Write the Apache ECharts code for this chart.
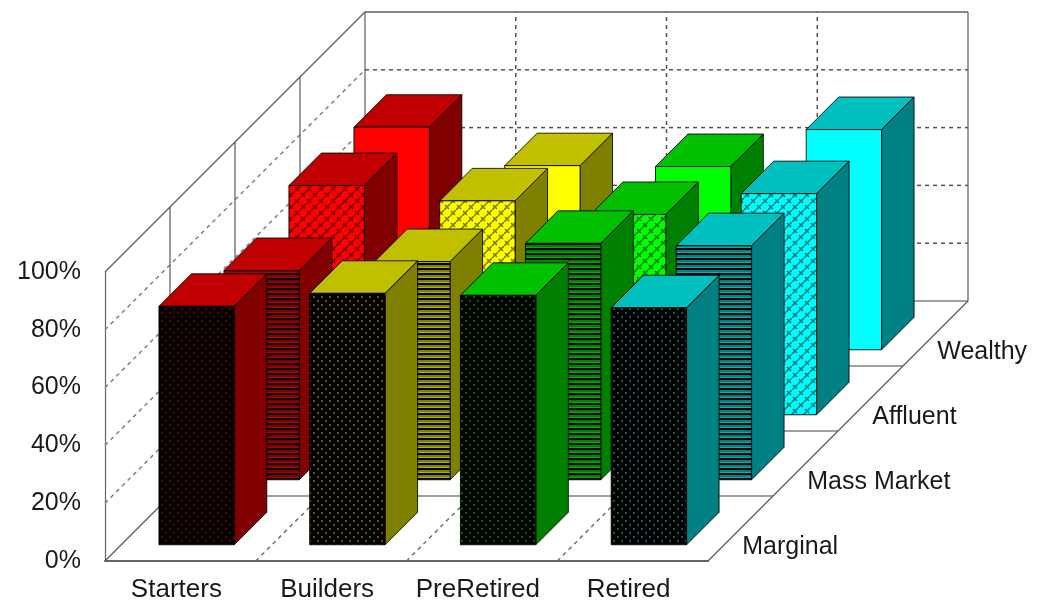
<!DOCTYPE html>
<html>
<head>
<meta charset="utf-8">
<title>Segment penetration by life stage</title>
<style>html,body{margin:0;padding:0;background:#fff}#chart{width:1040px;height:600px}</style>
<script src="https://cdn.jsdelivr.net/npm/echarts@6/dist/echarts.min.js"></script>
</head>
<body>
<div id="chart"></div>
<script>
// Life stages along the width, wealth segments along the depth (front to back)
const stages = ['Starters', 'Builders', 'PreRetired', 'Retired'];
const segments = ['Marginal', 'Mass Market', 'Affluent', 'Wealthy'];

// Percent values per segment, one per life stage
const marginal = [82.5, 87, 86.3, 82];
const massMarket = [72.4, 75.5, 81.8, 81];
const affluent = [79.3, 74, 69.3, 76.5];
const wealthy = [77, 63.7, 63.4, 76.2];
const segmentValues = [marginal, massMarket, affluent, wealthy];

const gridTicks = [20, 40, 60, 80];

// Face, top and side shades per life stage
const faceColors = ['#ff0000', '#ffff00', '#00ff00', '#00ffff'];
const topColors = ['#c00000', '#c0c000', '#00c000', '#00c0c0'];
const sideColors = ['#800000', '#808000', '#008000', '#008080'];

const DEPTH_STEP = 65;   // pixels per segment along the oblique depth axis
const WALL = '#5c5c5c';
const DASH = '#555555';
const FONT = '"Liberation Sans", Arial, sans-serif';

function tile(w, h, paint) {
  const c = document.createElement('canvas');
  c.width = w; c.height = h;
  paint(c.getContext('2d'));
  return c;
}

// Staggered dots on black for the front segment
function dotTile(side) {
  return tile(8, 8, g => {
    g.fillStyle = '#030000'; g.fillRect(0, 0, 8, 8);
    g.fillStyle = side;
    g.globalAlpha = 0.75;
    g.fillRect(1, 0, 2, 2);
    g.fillRect(5, 4, 2, 2);
    g.globalAlpha = 1;
  });
}
// Horizontal stripes
function stripeTile(face, side) {
  return tile(5, 5, g => {
    g.fillStyle = side; g.fillRect(0, 0, 5, 5);
    g.fillStyle = face; g.globalAlpha = 0.4; g.fillRect(0, 2, 5, 1);
    g.globalAlpha = 1;
    g.fillStyle = '#000'; g.fillRect(0, 3, 5, 2);
  });
}
// Woven cross-hatch
function weaveTile(face, side) {
  return tile(12, 12, g => {
    g.fillStyle = face; g.fillRect(0, 0, 12, 12);
    g.strokeStyle = side; g.lineWidth = 1.7;
    [[1, 1, 5, 5], [7, 7, 11, 11], [6, 0, 0, 6], [12, 6, 6, 12]].forEach(s => {
      g.beginPath();
      g.moveTo(s[0], s[1]);
      g.lineTo(s[2], s[3]);
      g.stroke();
    });
  });
}

function faceFill(stage, segment) {
  const face = faceColors[stage], side = sideColors[stage];
  if (segment === 3) return face;
  const image = segment === 0 ? dotTile(side)
    : segment === 1 ? stripeTile(face, side)
    : weaveTile(face, side);
  return { image: image, repeat: 'repeat' };
}

// Maps (stage position, percent, depth position) to pixels through the axes
function projector(api) {
  const band = api.size([1, 0])[0];
  const x0 = api.coord([0, 0])[0] - band / 2;
  return (u, v, d) => [x0 + u * band + d * DEPTH_STEP, api.coord([0, v])[1] - d * DEPTH_STEP];
}

function seg(a, b, stroke, width, dash) {
  return {
    type: 'line',
    shape: { x1: a[0], y1: a[1], x2: b[0], y2: b[1] },
    style: { stroke: stroke, lineWidth: width, lineDash: dash || null, fill: null },
    silent: true
  };
}

function renderFrame(params, api) {
  const p = projector(api);
  const n = stages.length, m = segments.length;
  const kids = [];
  const dash = [4, 4];
  gridTicks.forEach(t => {
    kids.push(seg(p(0, t, m), p(n, t, m), DASH, 1.5, dash));
    kids.push(seg(p(0, t, 0), p(0, t, m), '#808080', 1.5, dash));
  });
  for (let u = 1; u < n; u++) {
    kids.push(seg(p(u, 0, m), p(u, 100, m), DASH, 1.5, dash));
    kids.push(seg(p(u, 0, 0), p(u, 0, m), '#707070', 1.5, dash));
  }
  for (let d = 1; d <= m; d++) {
    kids.push(seg(p(0, 0, d), p(n, 0, d), '#808080', 1.5));
    kids.push(seg(p(0, 0, d), p(0, 100, d), WALL, 1.2));
  }
  kids.push(seg(p(0, 100, 0), p(0, 100, m), WALL, 1.2));
  kids.push(seg(p(0, 100, m), p(n, 100, m), WALL, 1.5));
  kids.push(seg(p(n, 0, m), p(n, 100, m), WALL, 1.2));
  kids.push(seg(p(0, 0, 0), p(0, 0, m), WALL, 1.2));
  kids.push(seg(p(n, 0, 0), p(n, 0, m), WALL, 1.2));
  segments.forEach((name, r) => {
    const at = p(n, 0, r + 0.25);
    kids.push({
      type: 'text',
      style: {
        x: at[0] + 18, y: at[1] + 2, text: name, fill: '#1a1a1a',
        font: '25px ' + FONT,
        textAlign: 'left', textVerticalAlign: 'middle'
      }
    });
  });
  return { type: 'group', children: kids };
}

function renderBar(params, api) {
  const stage = api.value(0), value = api.value(1), row = api.value(2);
  const p = projector(api);
  const u0 = stage + 0.25, u1 = stage + 0.75, d0 = row + 0.25, d1 = row + 0.75;
  const edge = { stroke: 'rgba(0,0,0,0.85)', lineWidth: 1 };
  const poly = (points, fill) => ({
    type: 'polygon',
    shape: { points: points },
    style: Object.assign({ fill: fill }, edge)
  });
  return {
    type: 'group',
    children: [
      poly([p(u1, 0, d0), p(u1, 0, d1), p(u1, value, d1), p(u1, value, d0)], sideColors[stage]),
      poly([p(u0, value, d0), p(u1, value, d0), p(u1, value, d1), p(u0, value, d1)], topColors[stage]),
      poly([p(u0, 0, d0), p(u1, 0, d0), p(u1, value, d0), p(u0, value, d0)], faceFill(stage, row))
    ]
  };
}

// Rear rows first so nearer bars paint over them
const barData = [];
for (let r = segments.length - 1; r >= 0; r--) {
  stages.forEach((s, i) => barData.push([i, segmentValues[r][i], r]));
}

const chart = echarts.init(document.getElementById('chart'), null, { renderer: 'canvas' });
chart.setOption({
  backgroundColor: '#ffffff',
  animation: false,
  tooltip: { show: false },
  grid: { left: 105, top: 272, width: 603, height: 289, containLabel: false, outerBoundsMode: 'none' },
  xAxis: {
    type: 'category',
    data: stages,
    axisLine: { show: true, lineStyle: { color: '#666666', width: 2 } },
    axisTick: { show: false },
    splitLine: { show: false },
    axisLabel: {
      margin: 16, color: '#1a1a1a', fontSize: 26, fontFamily: FONT, interval: 0,
      padding: [0, 8, 0, 0]
    }
  },
  yAxis: {
    type: 'value',
    min: 0, max: 100, interval: 20,
    axisLine: { show: true, lineStyle: { color: '#666666', width: 1.2 } },
    axisTick: { show: false },
    splitLine: { show: false },
    axisLabel: {
      margin: 24, color: '#1a1a1a', fontSize: 25, fontFamily: FONT,
      padding: [5, 0, 0, 0],
      formatter: '{value}%'
    }
  },
  series: [
    {
      type: 'custom', name: 'frame', z: 1, silent: true, clip: false,
      renderItem: renderFrame,
      encode: { x: 0, y: 1 },
      data: [[0, 0]]
    },
    {
      type: 'custom', name: 'bars', z: 2, silent: true, clip: false,
      renderItem: renderBar,
      encode: { x: 0, y: 1 },
      data: barData
    }
  ]
});
</script>
</body>
</html>
